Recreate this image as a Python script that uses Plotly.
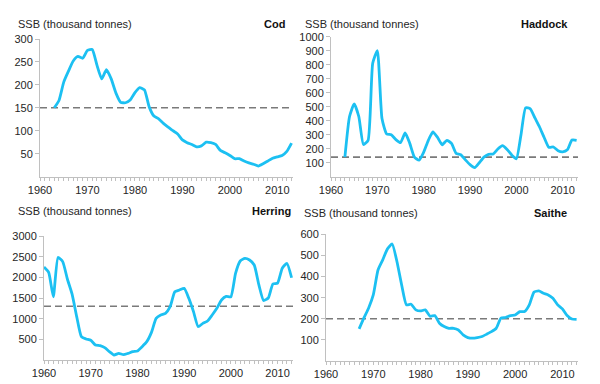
import plotly.graph_objects as go

# ---------------- data ----------------
cod_years = list(range(1963, 2014))
cod_ssb = [150, 166, 206, 230, 252, 262, 258, 275, 277, 243,
           213, 233, 213, 182, 162, 161, 167, 183, 194, 189,
           152, 132, 126, 116, 108, 100, 93, 80, 74, 70,
           65, 67, 75, 74, 70, 57, 52, 46, 39, 39,
           34, 30, 27, 23, 28, 34, 40, 43, 46, 55, 73]
cod_ref = 150

haddock_years = list(range(1963, 2014))
haddock_ssb = [140, 430, 520, 430, 230, 260, 810, 900, 415, 305,
               300, 265, 243, 312, 238, 140, 118, 175, 260, 320,
               280, 228, 260, 238, 167, 157, 120, 86, 65, 100,
               140, 160, 162, 198, 222, 195, 155, 128, 300, 492,
               485, 420, 355, 280, 210, 212, 186, 178, 192, 262, 260]
haddock_ref = 140

herring_years = list(range(1960, 2014))
herring_ssb = [2250, 2120, 1530, 2480, 2380, 1960, 1600, 1050, 565, 508,
               476, 363, 347, 298, 202, 121, 161, 129, 161, 202,
               218, 323, 444, 669, 1008, 1089, 1129, 1290, 1653, 1694,
               1734, 1492, 1169, 806, 887, 944, 1089, 1250, 1452, 1540,
               1530, 2097, 2395, 2460, 2419, 2298, 1815, 1440, 1500, 1840,
               1860, 2220, 2340, 1990]
herring_ref = 1300

saithe_years = list(range(1967, 2014))
saithe_ssb = [152, 203, 250, 313, 431, 479, 531, 554, 471, 360,
              266, 269, 242, 237, 242, 212, 215, 179, 163, 155,
              155, 147, 124, 111, 108, 111, 116, 127, 139, 155,
              203, 206, 215, 218, 234, 234, 266, 326, 332, 321,
              313, 297, 266, 247, 215, 199, 197]
saithe_ref = 200

year_ticks = [1960, 1970, 1980, 1990, 2000, 2010]
cod_yticks = [50, 100, 150, 200, 250, 300]
haddock_yticks = [100, 200, 300, 400, 500, 600, 700, 800, 900, 1000]
herring_yticks = [500, 1000, 1500, 2000, 2500, 3000]
saithe_yticks = [100, 200, 300, 400, 500, 600]

y_title = "SSB (thousand tonnes)"

# ---------------- styling ----------------
W, H = 600, 384
OFF = 8  # page body margin compensation (px)
LINE = "#1CC0F2"
REF = "#7a7a7a"
AX = "#c0c0c0"
TXT = "#262626"
FONT = "Liberation Sans, Arial, sans-serif"

def px_x(a, b):
    return [(a - OFF) / W, (b - OFF) / W]

def px_y(top, bottom):
    return [1 - (bottom - OFF) / H, 1 - (top - OFF) / H]

def pt(x, y):
    return (x - OFF) / W, 1 - (y - OFF) / H

panels = [
    ("Cod", cod_years, cod_ssb, cod_ref, cod_yticks, [0, 300],
     px_x(40, 293), px_y(39, 176.6), (16, 24), (287, 24)),
    ("Haddock", haddock_years, haddock_ssb, haddock_ref, haddock_yticks, [0, 1000],
     px_x(331, 578), px_y(36.7, 176.7), (303, 24), (570, 24)),
    ("Herring", herring_years, herring_ssb, herring_ref, herring_yticks, [0, 3000],
     px_x(44, 293), px_y(236, 360), (16, 211), (293, 211)),
    ("Saithe", saithe_years, saithe_ssb, saithe_ref, saithe_yticks, [0, 600],
     px_x(326, 578), px_y(234.3, 361), (302, 213), (569, 213)),
]

fig = go.Figure()
layout = dict(
    width=W, height=H, autosize=False,
    margin=dict(l=0, r=0, t=0, b=0, pad=0, autoexpand=False),
    paper_bgcolor="white", plot_bgcolor="white",
    showlegend=False,
    font=dict(family=FONT, size=11, color=TXT),
)
shapes = []
annotations = []

for i, (name, yrs, vals, ref, yt, yr, xd, yd, tpos, npos) in enumerate(panels):
    k = "" if i == 0 else str(i + 1)
    xa, ya = "x" + k, "y" + k
    fig.add_trace(go.Scatter(
        x=yrs, y=vals, mode="lines", xaxis=xa, yaxis=ya,
        line=dict(color=LINE, width=2.8, shape="spline", smoothing=0.5),
        hoverinfo="x+y",
    ))
    layout["xaxis" + k] = dict(
        domain=xd, anchor=ya, range=[1960, 2013.3], automargin=False,
        tickvals=year_ticks, ticktext=[str(v) for v in year_ticks],
        showgrid=False, zeroline=False,
        showline=True, linecolor=AX, linewidth=1,
        ticks="outside", ticklen=3, tickcolor=AX,
        minor=dict(dtick=1, tick0=1960, ticks="outside", ticklen=3, tickcolor=AX),
        tickfont=dict(size=11, color=TXT, family=FONT),
        fixedrange=True,
    )
    layout["yaxis" + k] = dict(
        domain=yd, anchor=xa, range=yr, automargin=False,
        tickvals=yt, ticktext=[str(v) for v in yt],
        showgrid=False, zeroline=False,
        showline=True, linecolor=AX, linewidth=1,
        ticks="outside", ticklen=4, tickcolor=AX,
        tickfont=dict(size=11, color=TXT, family=FONT),
        fixedrange=True,
    )
    shapes.append(dict(
        type="line", xref=xa + " domain", yref=ya,
        x0=0, x1=1, y0=ref, y1=ref,
        line=dict(color=REF, width=1.6, dash="7px,4px"),
        layer="below",
    ))
    tx, ty = pt(*tpos)
    annotations.append(dict(
        text=y_title, xref="paper", yref="paper",
        x=tx, y=ty, xanchor="left", yanchor="middle",
        showarrow=False, font=dict(size=11, color=TXT, family=FONT),
    ))
    nx, ny = pt(*npos)
    annotations.append(dict(
        text="<b>" + name + "</b>", xref="paper", yref="paper",
        x=nx, y=ny, xanchor="right", yanchor="middle",
        showarrow=False, font=dict(size=11, color="#111111", family=FONT),
    ))

layout["shapes"] = shapes
layout["annotations"] = annotations
fig.update_layout(**layout)
fig.write_html("out.html")
